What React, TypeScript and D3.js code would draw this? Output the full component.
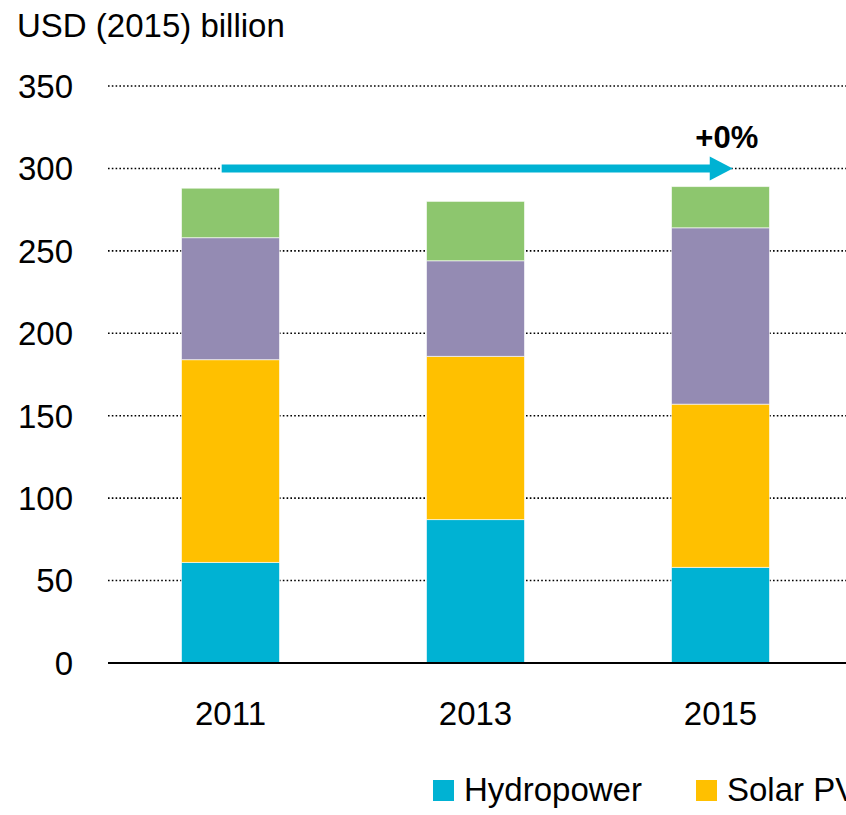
import React, { useEffect, useRef } from "react";
import * as d3 from "d3";

const years = ["2011", "2013", "2015"];
const hydropower = [61, 87, 58];
const solarPV = [123, 99, 99];
const wind = [74, 58, 107];
const other = [30, 36, 25];
const yTicks = [0, 50, 100, 150, 200, 250, 300, 350];
const seriesNames = ["Hydropower", "Solar PV", "Wind", "Other"];
const seriesColors = ["#00B2D3", "#FFC000", "#948BB3", "#8DC66E"];
const legendItems = ["Hydropower", "Solar PV"];
const changeLabel = "+0%";
const changeLevel = 300;

const W = 846;
const H = 815;
const FONT = "'Liberation Sans', Arial, sans-serif";

const App = () => {
  const ref = useRef<SVGSVGElement | null>(null);

  useEffect(() => {
    if (!ref.current) return;
    const svg = d3.select(ref.current);
    svg.selectAll("*").remove();

    const margin = { top: 86, left: 108, bottom: 152 };
    const plotBottom = H - margin.bottom; // 663

    const x = d3.scaleBand<string>()
      .domain(years)
      .range([margin.left, 843])
      .paddingInner(0.6)
      .paddingOuter(0.3);

    const y = d3.scaleLinear().domain([0, 350]).range([plotBottom, margin.top]);

    // --- gridlines + y tick labels ---
    const grid = svg.append("g");
    grid.selectAll("line")
      .data(yTicks.filter((t) => t > 0))
      .enter()
      .append("line")
      .attr("x1", margin.left)
      .attr("x2", W)
      .attr("y1", (d) => y(d))
      .attr("y2", (d) => y(d))
      .attr("stroke", "#000")
      .attr("stroke-width", 1.6)
      .attr("stroke-dasharray", "1.6 2.2");

    svg.append("g")
      .selectAll("text")
      .data(yTicks)
      .enter()
      .append("text")
      .attr("x", 73)
      .attr("y", (d) => y(d))
      .attr("dy", "0.36em")
      .attr("text-anchor", "end")
      .style("font-family", FONT)
      .style("font-size", "33px")
      .style("fill", "#000")
      .text((d) => d);

    // y axis title
    svg.append("text")
      .attr("x", 17)
      .attr("y", 37)
      .style("font-family", FONT)
      .style("font-size", "33px")
      .style("fill", "#000")
      .text("USD (2015) billion");

    // --- stacked bars ---
    const rows = years.map((yr, i) => ({
      year: yr,
      Hydropower: hydropower[i],
      "Solar PV": solarPV[i],
      Wind: wind[i],
      Other: other[i],
    }));
    const stack = d3.stack<any>().keys(seriesNames);
    const layers = stack(rows);

    svg.append("g")
      .selectAll("g")
      .data(layers)
      .enter()
      .append("g")
      .attr("fill", (_d, i) => seriesColors[i])
      .selectAll("rect")
      .data((d) => d)
      .enter()
      .append("rect")
      .attr("x", (d: any) => x(d.data.year)!)
      .attr("width", x.bandwidth())
      .attr("y", (d) => y(d[1]))
      .attr("height", (d) => y(d[0]) - y(d[1]))
      .attr("stroke", "#fff")
      .attr("stroke-opacity", 0.6)
      .attr("stroke-width", 1);

    // x axis line
    svg.append("line")
      .attr("x1", margin.left)
      .attr("x2", W)
      .attr("y1", plotBottom)
      .attr("y2", plotBottom)
      .attr("stroke", "#000")
      .attr("stroke-width", 2);

    // x labels
    svg.append("g")
      .selectAll("text")
      .data(years)
      .enter()
      .append("text")
      .attr("x", (d) => x(d)! + x.bandwidth() / 2)
      .attr("y", 725)
      .attr("text-anchor", "middle")
      .style("font-family", FONT)
      .style("font-size", "33px")
      .style("fill", "#000")
      .text((d) => d);

    // --- change arrow ---
    const ay = y(changeLevel);
    const ax1 = x(years[0])! + x.bandwidth() * 0.41;
    const ax2 = x(years[years.length - 1])! + x.bandwidth() * 0.625;
    const headLen = 23;
    svg.append("line")
      .attr("x1", ax1)
      .attr("x2", ax2 - headLen + 2)
      .attr("y1", ay)
      .attr("y2", ay)
      .attr("stroke", "#00B2D3")
      .attr("stroke-width", 8);
    svg.append("path")
      .attr("d", `M${ax2},${ay} L${ax2 - headLen},${ay - 12} L${ax2 - headLen},${ay + 12} Z`)
      .attr("fill", "#00B2D3");
    svg.append("text")
      .attr("x", ax2 - 6)
      .attr("y", 148)
      .attr("text-anchor", "middle")
      .style("font-family", FONT)
      .style("font-size", "31px")
      .style("font-weight", "bold")
      .style("fill", "#000")
      .text(changeLabel);

    // --- legend ---
    const legendX = [433, 696];
    const lg = svg.append("g");
    legendItems.forEach((name, i) => {
      const c = seriesColors[seriesNames.indexOf(name)];
      lg.append("rect")
        .attr("x", legendX[i])
        .attr("y", 780)
        .attr("width", 21)
        .attr("height", 21)
        .attr("fill", c);
      lg.append("text")
        .attr("x", legendX[i] + 31)
        .attr("y", 801)
        .style("font-family", FONT)
        .style("font-size", "33px")
        .style("fill", "#000")
        .text(name);
    });
  }, []);

  return (
    <div style={{ position: "absolute", left: 0, top: 0, width: W, height: H, overflow: "hidden", background: "#fff" }}>
      <svg ref={ref} width={W} height={H} style={{ display: "block" }} />
    </div>
  );
};

export default App;
